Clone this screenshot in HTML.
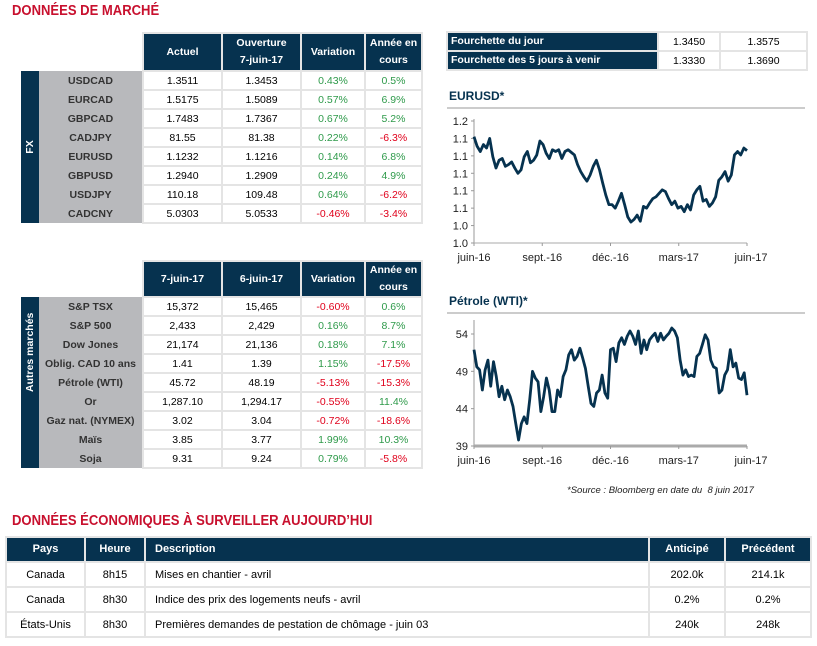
<!DOCTYPE html>
<html><head><meta charset="utf-8">
<style>
body{margin:0;width:817px;height:646px;background:#fff;font-family:"Liberation Sans",sans-serif;position:relative;overflow:hidden}
.ttl{position:absolute;color:#c8102e;font-weight:bold;font-size:14.5px;transform:scaleX(0.9);transform-origin:left}
table.t{position:absolute;border-collapse:collapse;font-size:10.5px;table-layout:fixed}
table.t td,table.t th{padding:0;text-align:center;height:17px;border:2px solid #e4e4e4;white-space:nowrap;overflow:hidden}
table.t th{background:#06324f;color:#fff;font-weight:bold;border-color:#e4e4e4;line-height:17px}
table.t td.e{border:none;background:#fff}
td.side{background:#06324f!important;color:#fff;font-weight:bold;border:none!important}
td.side div{transform:rotate(-90deg);white-space:nowrap}
td.nm{background:#b8b9bc;font-weight:bold;color:#333;border:none!important}
.g{color:#2e9a4a}.r{color:#e0001b}
.ch{position:absolute;color:#06324f;font-weight:bold;font-size:12px}
.rule{position:absolute;height:2px;background:#ccc}
</style></head><body>
<div class="ttl" style="left:12px;top:3px">DONNÉES DE MARCHÉ</div>

<table class="t" style="left:21px;top:32px;width:401px">
<colgroup><col style="width:18px"><col style="width:104px"><col style="width:79px"><col style="width:79px"><col style="width:64px"><col style="width:57px"></colgroup>
<tr style="height:38px"><td class="e"></td><td class="e"></td><th>Actuel</th><th>Ouverture<br>7-juin-17</th><th>Variation</th><th>Année en<br>cours</th></tr>
<tr><td class="side" rowspan="8"><div>FX</div></td><td class="nm">USDCAD</td><td>1.3511</td><td>1.3453</td><td class="g">0.43%</td><td class="g">0.5%</td></tr>
<tr><td class="nm">EURCAD</td><td>1.5175</td><td>1.5089</td><td class="g">0.57%</td><td class="g">6.9%</td></tr>
<tr><td class="nm">GBPCAD</td><td>1.7483</td><td>1.7367</td><td class="g">0.67%</td><td class="g">5.2%</td></tr>
<tr><td class="nm">CADJPY</td><td>81.55</td><td>81.38</td><td class="g">0.22%</td><td class="r">-6.3%</td></tr>
<tr><td class="nm">EURUSD</td><td>1.1232</td><td>1.1216</td><td class="g">0.14%</td><td class="g">6.8%</td></tr>
<tr><td class="nm">GBPUSD</td><td>1.2940</td><td>1.2909</td><td class="g">0.24%</td><td class="g">4.9%</td></tr>
<tr><td class="nm">USDJPY</td><td>110.18</td><td>109.48</td><td class="g">0.64%</td><td class="r">-6.2%</td></tr>
<tr><td class="nm">CADCNY</td><td>5.0303</td><td>5.0533</td><td class="r">-0.46%</td><td class="r">-3.4%</td></tr>
</table>

<table class="t" style="left:21px;top:260px;width:401px">
<colgroup><col style="width:18px"><col style="width:104px"><col style="width:79px"><col style="width:79px"><col style="width:64px"><col style="width:57px"></colgroup>
<tr style="height:34px"><td class="e"></td><td class="e"></td><th>7-juin-17</th><th>6-juin-17</th><th>Variation</th><th>Année en<br>cours</th></tr>
<tr><td class="side" rowspan="9"><div>Autres marchés</div></td><td class="nm">S&amp;P TSX</td><td>15,372</td><td>15,465</td><td class="r">-0.60%</td><td class="g">0.6%</td></tr>
<tr><td class="nm">S&amp;P 500</td><td>2,433</td><td>2,429</td><td class="g">0.16%</td><td class="g">8.7%</td></tr>
<tr><td class="nm">Dow Jones</td><td>21,174</td><td>21,136</td><td class="g">0.18%</td><td class="g">7.1%</td></tr>
<tr><td class="nm">Oblig. CAD 10 ans</td><td>1.41</td><td>1.39</td><td class="g">1.15%</td><td class="r">-17.5%</td></tr>
<tr><td class="nm">Pétrole (WTI)</td><td>45.72</td><td>48.19</td><td class="r">-5.13%</td><td class="r">-15.3%</td></tr>
<tr><td class="nm">Or</td><td>1,287.10</td><td>1,294.17</td><td class="r">-0.55%</td><td class="g">11.4%</td></tr>
<tr><td class="nm">Gaz nat. (NYMEX)</td><td>3.02</td><td>3.04</td><td class="r">-0.72%</td><td class="r">-18.6%</td></tr>
<tr><td class="nm">Maïs</td><td>3.85</td><td>3.77</td><td class="g">1.99%</td><td class="g">10.3%</td></tr>
<tr><td class="nm">Soja</td><td>9.31</td><td>9.24</td><td class="g">0.79%</td><td class="r">-5.8%</td></tr>
</table>

<table class="t" style="left:446px;top:31px;width:360px">
<colgroup><col style="width:211px"><col style="width:62px"><col style="width:87px"></colgroup>
<tr><th style="text-align:left;padding-left:3px">Fourchette du jour</th><td>1.3450</td><td>1.3575</td></tr>
<tr><th style="text-align:left;padding-left:3px">Fourchette des 5 jours à venir</th><td>1.3330</td><td>1.3690</td></tr>
</table>

<div class="ch" style="left:449px;top:89px">EURUSD*</div>
<div class="rule" style="left:447px;top:107px;width:358px"></div>
<div class="ch" style="left:449px;top:294px">Pétrole (WTI)*</div>
<div class="rule" style="left:447px;top:312px;width:358px"></div>

<svg id="c1" style="position:absolute;left:0;top:0" width="817" height="646"></svg>

<div style="position:absolute;left:567px;top:485px;font-size:9.5px;font-style:italic;color:#222">*Source : Bloomberg en date du&nbsp; 8 juin 2017</div>

<div class="ttl" style="left:12px;top:513px">DONNÉES ÉCONOMIQUES À SURVEILLER AUJOURD’HUI</div>
<table class="t" style="left:5px;top:536px;width:805px;font-size:11px">
<colgroup><col style="width:79px"><col style="width:60px"><col style="width:504px"><col style="width:76px"><col style="width:86px"></colgroup>
<tr style="height:25px"><th>Pays</th><th>Heure</th><th style="text-align:left;padding-left:9px">Description</th><th>Anticipé</th><th>Précédent</th></tr>
<tr style="height:25px"><td>Canada</td><td>8h15</td><td style="text-align:left;padding-left:9px">Mises en chantier - avril</td><td>202.0k</td><td>214.1k</td></tr>
<tr style="height:25px"><td>Canada</td><td>8h30</td><td style="text-align:left;padding-left:9px">Indice des prix des logements neufs - avril</td><td>0.2%</td><td>0.2%</td></tr>
<tr style="height:25px"><td>États-Unis</td><td>8h30</td><td style="text-align:left;padding-left:9px">Premières demandes de pestation de chômage - juin 03</td><td>240k</td><td>248k</td></tr>
</table>

<script>
const xLabels=["juin-16","sept.-16","déc.-16","mars-17","juin-17"];
const eurTicks=["1.2","1.1","1.1","1.1","1.1","1.1","1.0","1.0"];
const eurTickVals=[1.16,1.14,1.12,1.10,1.08,1.06,1.04,1.02];
const eurValues=[1.142,1.131,1.125,1.133,1.129,1.140,1.119,1.106,1.115,1.117,1.108,1.110,1.113,1.106,1.100,1.104,1.119,1.125,1.112,1.115,1.121,1.137,1.133,1.123,1.117,1.127,1.125,1.127,1.117,1.125,1.127,1.124,1.121,1.110,1.102,1.096,1.091,1.098,1.108,1.115,1.104,1.089,1.075,1.064,1.064,1.060,1.068,1.077,1.064,1.050,1.044,1.047,1.052,1.045,1.062,1.060,1.066,1.071,1.073,1.077,1.081,1.079,1.071,1.064,1.068,1.060,1.062,1.056,1.064,1.058,1.075,1.081,1.085,1.068,1.070,1.062,1.066,1.073,1.092,1.096,1.102,1.091,1.098,1.121,1.125,1.121,1.129,1.126];
const oilTicks=["54","49","44","39"];
const oilTickVals=[54,49,44,39];
const oilValues=[51.9,49.6,49.2,46.5,49.2,50.5,47.0,50.3,48.3,45.6,47.0,45.2,46.5,45.6,44.3,42.0,39.8,42.0,42.9,42.0,45.2,49.0,48.1,47.6,43.6,45.6,48.1,46.5,43.6,43.6,46.5,45.6,48.3,49.2,51.2,51.9,50.5,51.0,52.1,50.8,49.4,47.0,44.7,44.3,46.1,46.5,48.5,46.1,45.4,51.9,52.1,50.3,52.8,53.5,52.6,53.7,54.4,53.7,52.6,54.4,51.4,53.2,51.9,53.2,53.7,54.1,53.0,54.1,53.2,53.7,54.1,54.8,54.4,53.5,50.5,48.5,49.2,48.3,48.5,48.3,51.0,51.4,52.6,53.9,53.2,50.5,49.6,49.4,46.1,46.5,48.5,49.2,51.9,49.6,50.1,48.1,47.9,48.8,45.8];
const NS="http://www.w3.org/2000/svg";
const svg=document.getElementById('c1');
function mk(tag,a){const e=document.createElementNS(NS,tag);for(const k in a)e.setAttribute(k,a[k]);svg.appendChild(e);return e;}
function chart(o){
  const x0=474,x1=747;
  const ys=v=>o.yb-(v-o.vmin)/(o.vmax-o.vmin)*(o.yb-o.yt);
  const xs=i=>x0+i/(o.vals.length-1)*(x1-x0);
  const ax=mk('line',{x1:x0,y1:o.ytop,x2:x0,y2:o.yb,stroke:'#999','stroke-width':1});
  
  
  const bx=mk('line',{x1:x0,y1:o.yb,x2:x1,y2:o.yb,stroke:'#aaa','stroke-width':o.bw});
  
  
  o.tv.forEach((v,i)=>{
    mk('line',{x1:x0-3,y1:ys(v),x2:x0,y2:ys(v),stroke:'#999'});
    const t=mk('text',{x:x0-6,y:ys(v)+4,'text-anchor':'end','font-size':11,fill:'#222','font-family':'Liberation Sans, sans-serif'});
    t.textContent=o.tl[i];
    
    
  });
  xLabels.forEach((l,i)=>{
    const x=x0+i*(x1-x0)/4;
    mk('line',{x1:x,y1:o.yb,x2:x,y2:o.yb+3,stroke:'#999'});
    const t=mk('text',{x:x+(i==4?4:0),y:o.yb+18,'text-anchor':'middle','font-size':11,fill:'#222','font-family':'Liberation Sans, sans-serif'});
    t.textContent=l;
    
    
  });
  const p=mk('polyline',{points:o.vals.map((v,i)=>xs(i)+','+ys(v)).join(' '),fill:'none',stroke:'#06324f','stroke-width':2.8,'stroke-linejoin':'round'});
  
  
}
chart({name:'eurusd',vals:eurValues,vmin:1.02,vmax:1.16,yt:121,yb:243,ytop:119,tv:eurTickVals,tl:eurTicks,bw:1});
chart({name:'oil',vals:oilValues,vmin:39,vmax:54,yt:334,yb:446,ytop:320,tv:oilTickVals,tl:oilTicks,bw:3});
</script>
</body></html>
